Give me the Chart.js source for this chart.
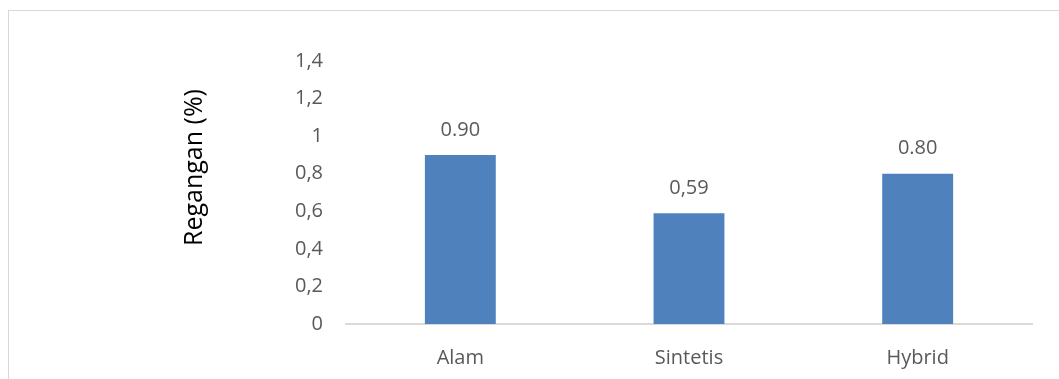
<!DOCTYPE html>
<html>
<head>
<meta charset="utf-8">
<script src="https://cdn.jsdelivr.net/npm/chart.js@4"></script>
<style>
  html, body { margin: 0; padding: 0; background: #ffffff; overflow: hidden; }
  #frame {
    position: absolute; left: 8px; top: 10px;
    width: 1100px; height: 400px;
    border: 1px solid #d9d9d9;
  }
  #wrap { position: absolute; left: 0; top: 0; width: 1059px; height: 379px; }
</style>
</head>
<body>
<div id="frame"></div>
<div id="wrap"><canvas id="chart" width="1059" height="379"></canvas></div>
<script>
// Data
const categories = ['Alam', 'Sintetis', 'Hybrid'];
const reganganValues = [0.90, 0.59, 0.80];
const valueLabels = ['0.90', '0,59', '0.80'];
const yTicks = [0, 0.2, 0.4, 0.6, 0.8, 1, 1.2, 1.4];
const yTitle = 'Regangan (%)';

const textGrey = '#595959';
const fontFamily = "'Open Sans', sans-serif";

// Writes the value above each bar
const barValueLabels = {
    id: 'barValueLabels',
    afterDatasetsDraw(chart) {
        const ctx = chart.ctx;
        const meta = chart.getDatasetMeta(0);
        ctx.save();
        ctx.font = `20px ${fontFamily}`;
        ctx.fillStyle = textGrey;
        ctx.textAlign = 'center';
        ctx.textBaseline = 'middle';
        meta.data.forEach((bar, i) => {
            ctx.fillText(valueLabels[i], bar.x, bar.y - 25);
        });
        ctx.restore();
    }
};

// Vertical axis title, sits a bit above the middle of the plot like in the original
const axisTitle = {
    id: 'axisTitle',
    afterDraw(chart) {
        const ctx = chart.ctx;
        const area = chart.chartArea;
        ctx.save();
        ctx.translate(195, area.top + (area.bottom - area.top) / 2 - 25);
        ctx.rotate(-Math.PI / 2);
        ctx.font = `25px ${fontFamily}`;
        ctx.fillStyle = '#000000';
        ctx.textAlign = 'center';
        ctx.textBaseline = 'middle';
        ctx.fillText(yTitle, 0, 0);
        ctx.restore();
    }
};

const ctx = document.getElementById('chart').getContext('2d');
new Chart(ctx, {
    type: 'bar',
    data: {
        labels: categories,
        datasets: [{
            data: reganganValues,
            backgroundColor: '#4f81bd',
            borderWidth: 0,
            barPercentage: 0.31,
            categoryPercentage: 1
        }]
    },
    options: {
        responsive: false,
        animation: false,
        layout: { padding: { top: 61, right: 27, bottom: 0, left: 0 } },
        plugins: {
            legend: { display: false },
            tooltip: { enabled: false }
        },
        scales: {
            x: {
                grid: { display: false },
                border: { display: true, color: '#d9d9d9', width: 2 },
                afterFit(scale) {
                    scale.height = 55;
                },
                ticks: {
                    color: textGrey,
                    padding: 14,
                    font: { family: fontFamily, size: 20 }
                }
            },
            y: {
                min: 0,
                max: 1.4,
                grid: { display: false, drawTicks: false },
                border: { display: false },
                afterBuildTicks(scale) {
                    scale.ticks = yTicks.map(v => ({ value: v }));
                },
                afterFit(scale) {
                    scale.width = 346;
                },
                ticks: {
                    color: textGrey,
                    padding: 23,
                    font: { family: fontFamily, size: 20 },
                    callback: v => String(Math.round(v * 10) / 10).replace('.', ',')
                }
            }
        }
    },
    plugins: [barValueLabels, axisTitle]
});
</script>
</body>
</html>
